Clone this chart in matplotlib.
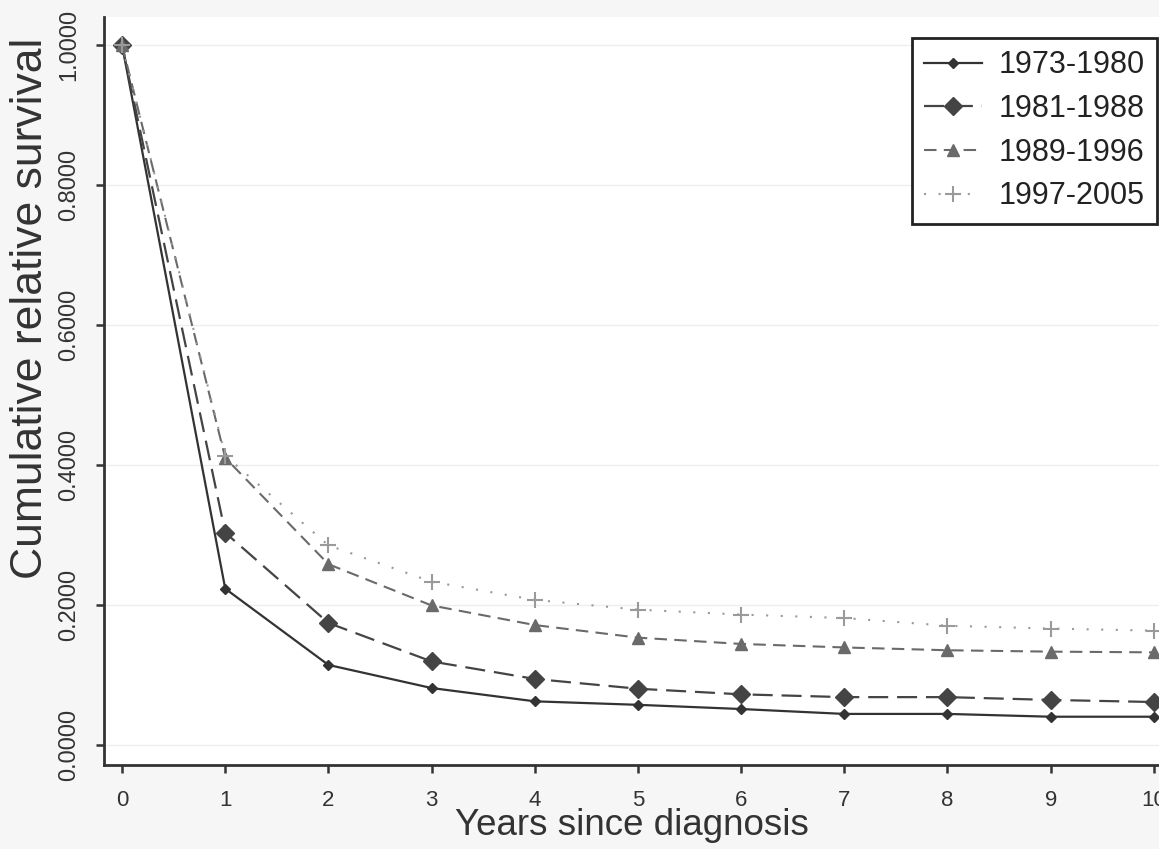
import numpy as np
import matplotlib
matplotlib.use("Agg")
import matplotlib.pyplot as plt

plt.rcParams['font.family'] = ['Liberation Sans', 'DejaVu Sans']

# years since diagnosis
years = [0, 1, 2, 3, 4, 5, 6, 7, 8, 9, 10]

# cumulative relative survival
s_1973 = [1.0, 0.223, 0.114, 0.081, 0.062, 0.057, 0.051, 0.044, 0.044, 0.040, 0.040]
s_1981 = [1.0, 0.303, 0.174, 0.119, 0.094, 0.080, 0.072, 0.068, 0.068, 0.064, 0.061]
s_1989 = [1.0, 0.410, 0.258, 0.199, 0.171, 0.153, 0.144, 0.139, 0.135, 0.133, 0.132]
s_1997 = [1.0, 0.413, 0.285, 0.233, 0.207, 0.193, 0.186, 0.181, 0.170, 0.166, 0.163]

labels = ["1973-1980", "1981-1988", "1989-1996", "1997-2005"]
y_ticks = [0.0, 0.2, 0.4, 0.6, 0.8, 1.0]

fig = plt.figure(figsize=(11.59, 8.49), dpi=100, facecolor="#f6f6f6")
ax = fig.add_axes([104 / 1159, 1 - 765 / 849, 1 - 104 / 1159, (765 - 17) / 849])
ax.set_facecolor("white")

ax.plot(years, s_1973, color="#333333", lw=1.6, ls="-",
        marker="D", ms=5, mfc="#333333", mec="#333333", label=labels[0])
ax.plot(years, s_1981, color="#444444", lw=1.6, ls=(0, (9, 4)),
        marker="D", ms=9, mfc="#444444", mec="#444444", label=labels[1])
ax.plot(years, s_1989, color="#6a6a6a", lw=1.5, ls=(0, (6, 3.5)),
        marker="^", ms=8, mfc="#6a6a6a", mec="#6a6a6a", label=labels[2])
ax.plot(years, s_1997, color="#9a9a9a", lw=1.5, ls=(0, (1, 6)),
        marker="+", ms=11, mew=1.5, mfc="#9a9a9a", mec="#9a9a9a", label=labels[3])

ax.set_xlim(-0.175, 10.05)
ax.set_ylim(-0.029, 1.04)
ax.set_xticks(years)
ax.set_yticks(y_ticks)
ax.set_yticklabels(["%.4f" % v for v in y_ticks], rotation=90, va="center")
ax.yaxis.grid(True, color="#eeeeee", lw=1)
ax.set_axisbelow(True)

for side in ["top", "right"]:
    ax.spines[side].set_visible(False)
for side in ["left", "bottom"]:
    ax.spines[side].set_color("#333333")
    ax.spines[side].set_linewidth(2)

ax.tick_params(axis="x", length=6, width=1.8, color="#333333",
               labelsize=16, labelcolor="#333333", pad=12)
ax.tick_params(axis="y", length=6, width=1.8, color="#333333",
               labelsize=17, labelcolor="#333333", pad=11)

ax.set_xlabel("Years since diagnosis", fontsize=26.5, color="#333333", labelpad=-2)
ax.set_ylabel("Cumulative relative survival", fontsize=32, color="#333333")
ax.yaxis.set_label_coords(-0.05, 0.61)

leg = ax.legend(loc="upper right", bbox_to_anchor=(1157 / 1159, 1 - 38 / 849),
                bbox_transform=fig.transFigure, fontsize=22, frameon=True,
                fancybox=False, edgecolor="#222222", framealpha=1,
                handlelength=1.9, handletextpad=0.55, labelspacing=0.45,
                borderpad=0.4, borderaxespad=0)
leg.get_frame().set_linewidth(2)
for t in leg.get_texts():
    t.set_color("#222222")

fig.savefig("out.png", dpi=100, facecolor=fig.get_facecolor())
